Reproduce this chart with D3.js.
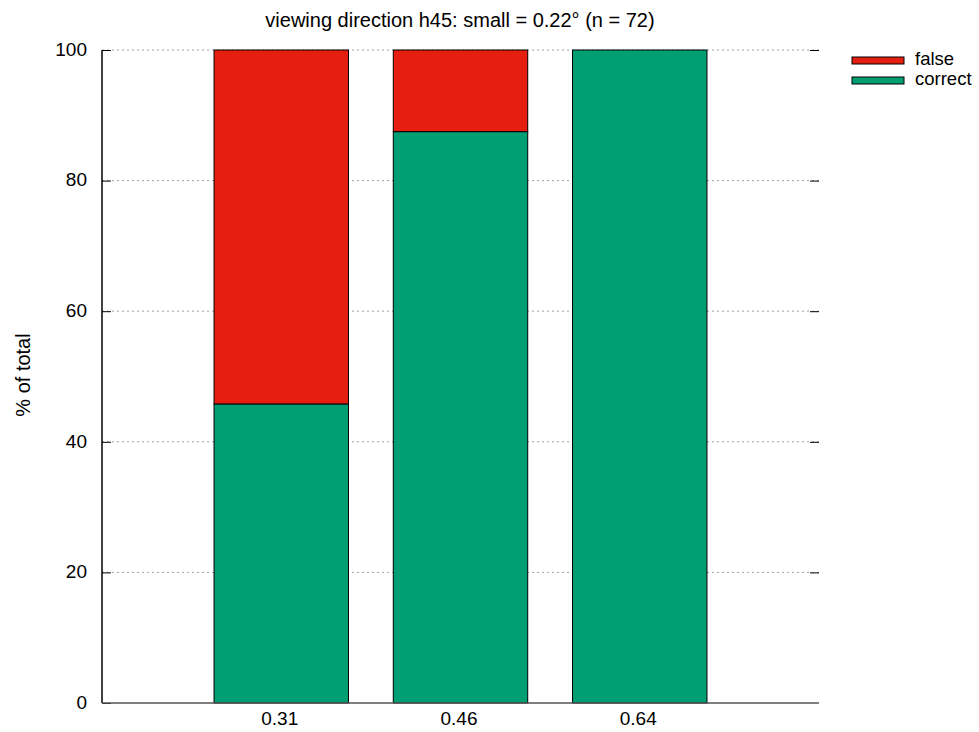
<!DOCTYPE html>
<html><head><meta charset="utf-8">
<script src="https://cdn.jsdelivr.net/npm/d3@7"></script>
<style>body{margin:0;background:#fff}svg{display:block}text{font-family:"Liberation Sans",Arial,sans-serif}</style>
</head><body>
<svg id="c" width="979" height="732"></svg>
<script>
const categories = ["0.31", "0.46", "0.64"];
const correct = [45.8, 87.5, 100];
const falseVals = [54.2, 12.5, 0];
const yTicks = [0, 20, 40, 60, 80, 100];
const seriesNames = ["false", "correct"];
const colors = {false: "#e51e10", correct: "#009e73"};

const svg = d3.select("#c");
const L = 102, R = 819, T = 50, B = 703;
const x = d3.scaleLinear().domain([-1, 3]).range([L, R]);
const y = d3.scaleLinear().domain([0, 100]).range([B, T]);
const bw = 0.75;

// grid
svg.append("g").selectAll("line").data(yTicks.filter(d => d > 0)).join("line")
  .attr("x1", L).attr("x2", R).attr("y1", d => y(d)).attr("y2", d => y(d))
  .attr("stroke", "#a0a0a0").attr("stroke-width", 1).attr("stroke-dasharray", "2,3");

// bars
const g = svg.append("g");
categories.forEach((c, i) => {
  const x0 = x(i - bw / 2), x1 = x(i + bw / 2);
  g.append("rect").attr("x", x0).attr("width", x1 - x0)
    .attr("y", y(correct[i])).attr("height", y(0) - y(correct[i]))
    .attr("fill", colors.correct).attr("stroke", "#000").attr("stroke-width", 1);
  if (falseVals[i] > 0) {
    const top = correct[i] + falseVals[i];
    g.append("rect").attr("x", x0).attr("width", x1 - x0)
      .attr("y", y(top)).attr("height", y(correct[i]) - y(top))
      .attr("fill", colors.false).attr("stroke", "#000").attr("stroke-width", 1);
  }
});

// axes
const ya = d3.axisLeft(y).tickValues(yTicks).tickSize(-9).tickPadding(15).tickFormat(d3.format("d"));
const yg = svg.append("g").attr("transform", `translate(${L},0)`).call(ya);
yg.select(".domain").remove();
yg.selectAll("text").attr("font-size", 19).attr("fill", "#000").attr("dy", "0.28em");
yg.selectAll("line").attr("stroke", "#000");
svg.append("line").attr("x1", L).attr("x2", L).attr("y1", T).attr("y2", B).attr("stroke", "#000").attr("stroke-width", 1.5);

const yr = d3.axisRight(y).tickValues(yTicks.filter(d => d > 0)).tickSize(-9).tickFormat("");
const yrg = svg.append("g").attr("transform", `translate(${R},0)`).call(yr);
yrg.select(".domain").remove();
yrg.selectAll("line").attr("stroke", "#000");

const xa = d3.axisBottom(x).tickValues([0, 1, 2]).tickSize(0).tickPadding(9).tickFormat(i => categories[i]);
const xg = svg.append("g").attr("transform", `translate(0,${B})`).call(xa);
xg.select(".domain").remove();
xg.selectAll("text").attr("font-size", 19).attr("fill", "#000").attr("dx", "-2");
svg.append("line").attr("x1", L).attr("x2", R).attr("y1", B).attr("y2", B).attr("stroke", "#555").attr("stroke-width", 1.5);

// title
svg.append("text").attr("x", 460).attr("y", 27).attr("text-anchor", "middle").attr("font-size", 20)
  .text("viewing direction h45: small = 0.22° (n = 72)");
// y label
svg.append("text").attr("transform", "translate(30,375) rotate(-90)").attr("text-anchor", "middle")
  .attr("font-size", 20).text("% of total");

// legend
seriesNames.forEach((s, i) => {
  const yy = 57 + i * 20;
  svg.append("rect").attr("x", 852).attr("y", yy).attr("width", 52).attr("height", 7)
    .attr("fill", colors[s]).attr("stroke", "#000").attr("stroke-width", 1);
  svg.append("text").attr("x", 915).attr("y", yy + 8).attr("font-size", 18.5).text(s);
});
</script>
</body></html>
